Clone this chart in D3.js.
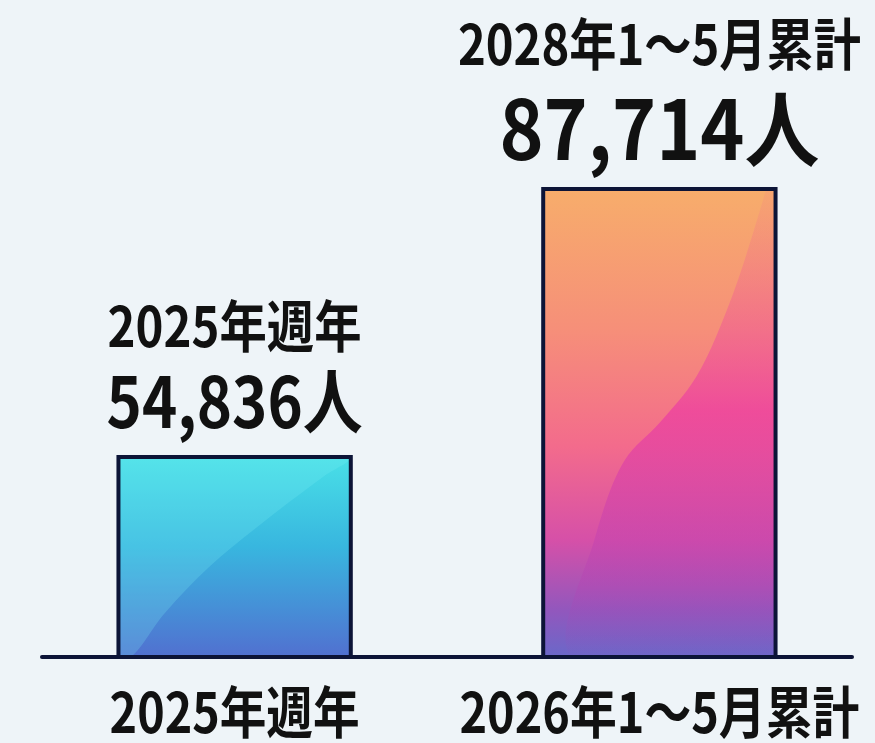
<!DOCTYPE html>
<html>
<head>
<meta charset="utf-8">
<script src="https://cdn.jsdelivr.net/npm/d3@7"></script>
<style>
  html, body { margin: 0; padding: 0; background: #eef4f8; }
  text { font-family: "Noto Sans CJK JP", "Noto Sans", sans-serif; font-weight: 700; fill: #111; }
</style>
</head>
<body>
<script>
// datos del gráfico
var categorias = ["2025年週年", "2026年1～5月累計"];
var titulos = ["2025年週年", "2028年1～5月累計"];
var valores = [54836, 87714];

var w = 875, h = 743;
var base = 657;

var svg = d3.select("body").append("svg")
    .attr("width", w)
    .attr("height", h);

// fondo
svg.append("rect").attr("width", w).attr("height", h).attr("fill", "#eef4f8");

// escalas (el eje vertical no empieza en cero, igual que la imagen)
var x = d3.scaleBand()
    .domain(categorias)
    .range([42, 852])
    .paddingInner(0.453)
    .paddingOuter(0.18);

var y = d3.scaleLinear()
    .domain([30300, 110900])
    .range([base, 0]);

// degradados
var defs = svg.append("defs");
var grads = [
  [["0", "#49e0e7"], ["0.45", "#38b6df"], ["1", "#5170d0"]],
  [["0", "#f7ad6b"], ["0.3", "#f68f79"], ["0.55", "#f36b8c"], ["0.75", "#d650a8"], ["0.9", "#9257bd"], ["1", "#6a68c9"]]
];
grads.forEach(function(g, i){
    var lg = defs.append("linearGradient").attr("id", "g" + i)
        .attr("x1", 0).attr("y1", 0).attr("x2", 0).attr("y2", 1);
    g.forEach(function(s){ lg.append("stop").attr("offset", s[0]).attr("stop-color", s[1]); });
});
var lgm = defs.append("linearGradient").attr("id", "mag")
    .attr("x1", 0).attr("y1", 0).attr("x2", 0).attr("y2", 1);
lgm.append("stop").attr("offset", "0").attr("stop-color", "#f27a88").attr("stop-opacity", 0.2);
lgm.append("stop").attr("offset", "0.45").attr("stop-color", "#ec38a4").attr("stop-opacity", 0.9);
lgm.append("stop").attr("offset", "0.8").attr("stop-color", "#b346b4").attr("stop-opacity", 0.6);
lgm.append("stop").attr("offset", "1").attr("stop-color", "#7060c4").attr("stop-opacity", 0);

// recorte de cada barra
valores.forEach(function(d, i){
    defs.append("clipPath").attr("id", "c" + i)
        .append("rect")
        .attr("x", x(categorias[i]))
        .attr("y", y(d))
        .attr("width", x.bandwidth())
        .attr("height", base - y(d));
});

// forma del brillo en fracciones de la barra
var brillo = [
  [[0, 0], [1, 0], [0.88, 0.1], [0.63, 0.32], [0.39, 0.55], [0.2, 0.78], [0.05, 1], [0, 1]],
  [[0.96, 0], [0.82, 0.22], [0.66, 0.4], [0.5, 0.5], [0.35, 0.58], [0.22, 0.75], [0.12, 1], [1, 1], [1, 0]]
];

var barras = svg.selectAll("g.barra")
    .data(valores)
    .enter()
    .append("g")
    .attr("class", "barra");

barras.append("rect")
    .attr("x", function(d, i){ return x(categorias[i]); })
    .attr("y", function(d){ return y(d); })
    .attr("width", x.bandwidth())
    .attr("height", function(d){ return base - y(d); })
    .attr("fill", function(d, i){ return "url(#g" + i + ")"; });

barras.append("path")
    .attr("clip-path", function(d, i){ return "url(#c" + i + ")"; })
    .attr("d", function(d, i){
        var x0 = x(categorias[i]), y0 = y(d), bw = x.bandwidth(), bh = base - y(d);
        return d3.line().curve(d3.curveCatmullRom)(brillo[i].map(function(p){
            return [x0 + p[0] * bw, y0 + p[1] * bh];
        })) + "Z";
    })
    .attr("fill", function(d, i){ return i === 0 ? "#7ff3f4" : "url(#mag)"; })
    .attr("opacity", function(d, i){ return i === 0 ? 0.22 : 0.75; });

barras.append("rect")
    .attr("x", function(d, i){ return x(categorias[i]); })
    .attr("y", function(d){ return y(d); })
    .attr("width", x.bandwidth())
    .attr("height", function(d){ return base - y(d); })
    .attr("fill", "none")
    .attr("stroke", "#0c1437")
    .attr("stroke-width", 4);

// línea base
svg.append("line")
    .attr("x1", 42).attr("x2", 852)
    .attr("y1", base).attr("y2", base)
    .attr("stroke", "#0c1437")
    .attr("stroke-width", 4)
    .attr("stroke-linecap", "round");

// textos encima de cada barra
var fmt = d3.format(",");
var estTitulo = [{dy: 110, size: 56, len: 254}, {dy: 124, size: 56, len: 403}];
var estValor = [{dy: 29, size: 70, len: 256}, {dy: 29, size: 82, len: 320}];

svg.selectAll("text.titulo")
    .data(titulos)
    .enter()
    .append("text")
    .attr("class", "titulo")
    .attr("x", function(d, i){ return x(categorias[i]) + x.bandwidth() / 2; })
    .attr("y", function(d, i){ return y(valores[i]) - estTitulo[i].dy; })
    .attr("text-anchor", "middle")
    .attr("font-size", function(d, i){ return estTitulo[i].size; })
    .attr("textLength", function(d, i){ return estTitulo[i].len; })
    .attr("lengthAdjust", "spacingAndGlyphs")
    .text(function(d){ return d; });

svg.selectAll("text.valor")
    .data(valores)
    .enter()
    .append("text")
    .attr("class", "valor")
    .attr("x", function(d, i){ return x(categorias[i]) + x.bandwidth() / 2; })
    .attr("y", function(d, i){ return y(d) - estValor[i].dy; })
    .attr("text-anchor", "middle")
    .attr("font-size", function(d, i){ return estValor[i].size; })
    .attr("textLength", function(d, i){ return estValor[i].len; })
    .attr("lengthAdjust", "spacingAndGlyphs")
    .text(function(d){ return fmt(d) + "人"; });

// etiquetas del eje
var largoEje = [250, 400];
svg.selectAll("text.cat")
    .data(categorias)
    .enter()
    .append("text")
    .attr("class", "cat")
    .attr("x", function(d){ return x(d) + x.bandwidth() / 2; })
    .attr("y", 733)
    .attr("text-anchor", "middle")
    .attr("font-size", 56)
    .attr("textLength", function(d, i){ return largoEje[i]; })
    .attr("lengthAdjust", "spacingAndGlyphs")
    .text(function(d){ return d; });
</script>
</body>
</html>
